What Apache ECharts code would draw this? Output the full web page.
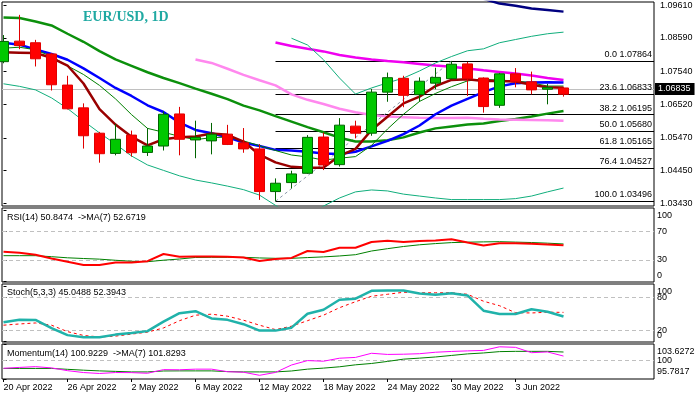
<!DOCTYPE html>
<html><head><meta charset="utf-8">
<script src="https://cdn.jsdelivr.net/npm/echarts@6/dist/echarts.min.js"></script>
<style>html,body{margin:0;padding:0;background:#fff}#c{width:698px;height:398px}</style>
</head><body><div id="c"></div>
<script>
// ---------- data ----------
const dates = ['20 Apr 2022','21 Apr 2022','22 Apr 2022','25 Apr 2022','26 Apr 2022','27 Apr 2022','28 Apr 2022','29 Apr 2022','2 May 2022','3 May 2022','4 May 2022','5 May 2022','6 May 2022','9 May 2022','10 May 2022','11 May 2022','12 May 2022','13 May 2022','16 May 2022','17 May 2022','18 May 2022','19 May 2022','20 May 2022','23 May 2022','24 May 2022','25 May 2022','26 May 2022','27 May 2022','30 May 2022','31 May 2022','1 Jun 2022','2 Jun 2022','3 Jun 2022','6 Jun 2022','7 Jun 2022','8 Jun 2022'];
const labelDates = ['20 Apr 2022','26 Apr 2022','2 May 2022','6 May 2022','12 May 2022','18 May 2022','24 May 2022','30 May 2022','3 Jun 2022'];

const open  = [1.0785,1.0849,1.0844,1.0809,1.0712,1.0641,1.0562,1.0499,1.0556,1.0502,1.0522,1.0622,1.0541,1.0538,1.0559,1.0532,1.0513,1.0380,1.0408,1.0437,1.0550,1.0464,1.0584,1.0562,1.0690,1.0733,1.0682,1.0718,1.0732,1.0778,1.0734,1.0649,1.0747,1.0722,1.0699,1.0703];
const high  = [1.0868,1.0931,1.0853,1.0812,1.0741,1.0655,1.0566,1.0591,1.0570,1.0578,1.0630,1.0644,1.0601,1.0594,1.0588,1.0578,1.0528,1.0421,1.0445,1.0556,1.0564,1.0609,1.0601,1.0700,1.0751,1.0741,1.0736,1.0766,1.07864,1.0784,1.0736,1.0750,1.0765,1.0754,1.0716,1.0706];
const low   = [1.0780,1.0824,1.0770,1.0695,1.0636,1.0514,1.0470,1.0493,1.0489,1.0491,1.0508,1.0493,1.0484,1.0496,1.0525,1.0501,1.0354,1.03496,1.0390,1.0435,1.0447,1.0458,1.0546,1.0554,1.0660,1.0643,1.0660,1.0699,1.0730,1.0678,1.0626,1.0641,1.0705,1.0683,1.0652,1.0676];
const close = [1.0848,1.0835,1.0794,1.0713,1.0638,1.0554,1.0498,1.0543,1.0501,1.0522,1.0621,1.0543,1.0549,1.0559,1.0527,1.0513,1.0380,1.0406,1.0435,1.0549,1.0463,1.0587,1.0562,1.0690,1.0735,1.0680,1.0724,1.0736,1.0777,1.0732,1.0645,1.0747,1.0722,1.0697,1.0705,1.06835];

const maDarkRed = [1.0814,1.0813,1.0812,1.0797,1.0773,1.0717,1.0637,1.0589,1.0551,1.0524,1.0543,1.0549,1.0552,1.0561,1.0557,1.0536,1.0495,1.0471,1.0457,1.0454,1.0455,1.0491,1.0513,1.0572,1.0613,1.0655,1.0676,1.0709,1.0728,1.0730,1.0725,1.0725,1.0723,1.0713,1.0705,1.0704];
const maThinGreen = [1.0827,1.0830,1.0822,1.0801,1.0772,1.0745,1.0711,1.0669,1.0620,1.0577,1.0565,1.0552,1.0542,1.0548,1.0550,1.0538,1.0523,1.0508,1.0494,1.0488,1.0478,1.0484,1.0489,1.0524,1.0575,1.0621,1.0661,1.0686,1.0707,1.0725,1.0731,1.0727,1.0725,1.0719,1.0709,1.0709];
const maBlue = [1.0844,1.0838,1.0823,1.0809,1.0791,1.0764,1.0734,1.0703,1.0678,1.0649,1.0628,1.0595,1.0572,1.0562,1.0549,1.0533,1.0522,1.0510,1.0508,1.0504,1.0499,1.0497,1.0504,1.0521,1.0538,1.0559,1.0586,1.0621,1.0648,1.0669,1.0690,1.0708,1.0718,1.0720,1.0721,1.0720];
const maThickGreen = [1.0923,1.0921,1.0910,1.0898,1.0872,1.0847,1.0818,1.0792,1.0772,1.0752,1.0734,1.0718,1.0701,1.0685,1.0668,1.0648,1.0633,1.0615,1.0598,1.0581,1.0565,1.0548,1.0536,1.0536,1.0540,1.0549,1.0564,1.0577,1.0583,1.0589,1.0592,1.0600,1.0606,1.0614,1.0623,1.0631];
const maPink = [null,null,null,null,null,null,null,null,null,null,null,null,1.0792,1.0781,1.0763,1.0744,1.0727,1.0711,1.0683,1.0666,1.0653,1.0638,1.0627,1.0619,1.0614,1.0612,1.0610,1.0609,1.0609,1.0610,1.0607,1.0605,1.0604,1.0603,1.0602,1.0601];
const maMagenta = [null,null,null,null,null,null,null,null,null,null,null,null,null,null,null,null,null,1.0845,1.0834,1.0825,1.0817,1.0806,1.0798,1.0792,1.0787,1.0783,1.0778,1.0773,1.0769,1.0764,1.0758,1.0753,1.0748,1.0742,1.0734,1.0728];
const maNavy = [null,null,null,null,null,null,null,null,null,null,null,null,null,null,null,null,null,null,null,null,null,null,null,null,null,null,null,null,null,null,1.0981,1.0966,1.0959,1.0951,1.0946,1.0941];
const bandUpper = [null,null,null,null,null,null,null,null,null,null,null,null,null,null,null,null,null,null,1.0858,1.0837,1.0791,1.0734,1.0684,1.0703,1.0719,1.0734,1.0756,1.0781,1.0801,1.0819,1.0825,1.0844,1.0854,1.0864,1.0872,1.0877];
const bandLower = [1.0716,1.0708,1.0697,1.0672,1.0639,1.0600,1.0563,1.0528,1.0491,1.0463,1.0446,1.0429,1.0416,1.0407,1.0397,1.0386,1.0369,1.0337,1.0304,1.0304,1.0335,1.0360,1.0379,1.0385,1.0382,1.0372,1.0366,1.0360,1.0355,1.0355,1.0355,1.0355,1.0358,1.0366,1.0379,1.0391];

const priceTicks = [1.03430,1.04450,1.05470,1.06520,1.07540,1.08590,1.09610];
const bidPrice = 1.06835;
const fibLevels = ['0.0','23.6','38.2','50.0','61.8','76.4','100.0'];
const fibPrices = [1.07864,1.06833,1.06195,1.05680,1.05165,1.04527,1.03496];
const fibLowDate = '13 May 2022';
const fibHighDate = '30 May 2022';

const rsi   = [41.5,40.3,37.4,32.0,27.5,23.0,23.0,26.6,26.4,28.3,38.5,34.7,35.0,35.0,34.7,33.6,28.6,31.4,32.9,42.7,41.3,47.4,47.4,55.5,57.1,55.5,56.9,57.6,59.3,54.7,50.5,53.6,53.6,52.9,51.9,50.85];
const rsiMa = [36.1,36.1,36.1,34.7,33.1,32.1,31.2,29.6,28.2,27.6,29.7,31.4,33.6,33.8,33.8,33.8,32.9,32.4,32.4,33.4,34.4,35.7,37.5,42.7,46.0,49.1,51.5,53.2,54.6,55.2,55.6,55.9,55.3,54.7,53.8,52.67];
const rsiLevels = [30, 70];
const rsiTicks = [0, 30, 70, 100];

const stochK = [34.4,39.2,38.7,24.0,11.4,7.4,7.4,12.3,15.3,18.6,35.6,50.9,54.5,41.4,38.9,31.1,19.5,19.5,24.8,50.0,57.2,75.2,77.0,91.3,91.9,91.9,86.5,84.1,86.8,82.9,55.4,49.5,49.5,58.1,53.6,45.05];
const stochD = [29.3,31.5,33.3,29.3,17.7,10.8,8.1,9.6,13.2,16.8,24.3,37.4,47.3,49.1,45.5,38.3,29.3,21.3,27.5,37.4,47.3,60.8,71.6,81.4,85.0,88.6,87.7,87.7,87.7,85.0,72.5,64.4,51.8,51.3,52.7,52.39];
const stochLevels = [20, 80];
const stochTicks = [0, 20, 80, 100];

const momentum = [98.18,98.38,98.55,98.27,97.65,97.23,97.02,97.23,97.21,97.07,97.88,97.85,97.99,97.99,97.42,97.30,96.61,97.25,98.92,99.91,99.77,100.44,100.62,101.55,101.29,101.34,101.45,101.78,101.96,102.08,102.19,103.00,102.88,101.68,101.85,100.92];
const momentumMa = [98.15,98.15,98.15,98.15,97.95,97.76,97.60,97.49,97.37,97.37,97.58,97.60,97.60,97.60,97.44,97.37,97.37,97.37,97.58,97.99,98.22,98.52,98.96,99.26,99.72,100.23,100.46,100.72,101.06,101.41,101.62,101.92,101.98,101.98,101.98,101.83];
const momLevels = [100];
const momTicks = [95.7817, 100, 103.6272];

// ---------- chart ----------
const FONT = '"Liberation Sans", Arial, sans-serif';
const X_MIN = -0.09375, X_MAX = 40.65625;
const grids = [
  {left: 2, right: 44, top: 2, height: 204},
  {left: 2, right: 44, top: 208, height: 74},
  {left: 2, right: 44, top: 284, height: 58},
  {left: 2, right: 44, top: 344, height: 35}
].map(g => Object.assign(g, {show: true, borderColor: '#000', borderWidth: 1, backgroundColor: 'transparent', containLabel: false}));

const tickIdx = labelDates.map(d => dates.indexOf(d));
const xAxes = grids.map((g, gi) => ({
  type: 'value', gridIndex: gi, min: X_MIN, max: X_MAX, show: gi === 3,
  splitLine: {show: false}, axisLine: {show: false},
  axisTick: {show: true, customValues: tickIdx, length: 3, lineStyle: {color: '#000'}},
  axisLabel: {show: true, customValues: tickIdx, formatter: v => dates[Math.round(v)], align: 'left',
    hideOverlap: false, margin: 4, color: '#000', fontSize: 9, fontFamily: FONT}
}));

// Indicator scale: inner levels on one axis; the panel's top / bottom labels on a
// second axis of the same grid, nudged a few pixels inside the panel (style offsets).
function indAxes(gi, min, max, heightPx, ticks, shiftTopPx, shiftBotPx) {
  const perPx = (max - min) / heightPx;
  const top = ticks[ticks.length - 1], bot = ticks[0];
  const inner = ticks.filter(v => v !== top && v !== bot);
  const edgePos = [bot + shiftBotPx * perPx, top - shiftTopPx * perPx];
  const base = {
    type: 'value', gridIndex: gi, position: 'right', offset: 0, min: min, max: max,
    splitLine: {show: false}, axisLine: {show: false}
  };
  const lbl = {margin: 3, color: '#000', fontSize: 9, fontFamily: FONT, hideOverlap: false};
  return [
    Object.assign({}, base, {
      axisTick: {show: true, customValues: ticks, length: 3, lineStyle: {color: '#000'}},
      axisLabel: Object.assign({customValues: inner, formatter: v => String(v)}, lbl)
    }),
    Object.assign({}, base, {
      axisTick: {show: false},
      axisLabel: Object.assign({customValues: edgePos,
        formatter: v => String(Math.abs(v - edgePos[0]) < Math.abs(v - edgePos[1]) ? bot : top)}, lbl)
    })
  ];
}

const rsiAx = indAxes(1, -1.1, 103.5, 74, rsiTicks, 5, 6);
const stAx = indAxes(2, -1, 103.5, 58, stochTicks, 6, 6);
const moAx = indAxes(3, 95.7817, 103.6272, 35, momTicks, 7.5, 7);
const yAxes = [
  {type: 'value', gridIndex: 0, position: 'right', min: 1.0335, max: 1.0971,
    splitLine: {show: false}, axisLine: {show: false},
    axisTick: {show: true, customValues: priceTicks, length: 3, lineStyle: {color: '#000'}},
    axisLabel: {customValues: priceTicks, formatter: v => v.toFixed(5), margin: 6, hideOverlap: false,
      color: '#000', fontSize: 9, fontFamily: FONT}},
  rsiAx[0], stAx[0], moAx[0], rsiAx[1], stAx[1], moAx[1]
];

const xy = arr => arr.map((v, i) => [i, v]);
function line(data, color, width, gi, z, dash) {
  return {type: 'line', xAxisIndex: gi, yAxisIndex: gi, data: xy(data), showSymbol: false, symbol: 'none',
    z: z || 2, silent: true, connectNulls: false, clip: true,
    lineStyle: {color: color, width: width, type: dash || 'solid'}};
}
function levelLines(values) {
  return {silent: true, symbol: 'none', z: 1, label: {show: false},
    lineStyle: {color: '#C0C0C0', type: [4, 3], width: 1},
    data: values.map(v => ({yAxis: v}))};
}

const fibFrom = dates.indexOf(fibLowDate), fibTo = dates.indexOf(fibHighDate);
const fibLines = fibLevels.map((lvl, k) => {
  const txt = lvl + ' ' + fibPrices[k].toFixed(5);
  return [
    {xAxis: fibFrom, yAxis: fibPrices[k], label: {show: true, formatter: txt}},
    {xAxis: X_MAX, yAxis: fibPrices[k]}
  ];
});

const candleData = dates.map((d, i) => [i, open[i], close[i], low[i], high[i]]);

const series = [
  // bid line (behind everything)
  {type: 'line', xAxisIndex: 0, yAxisIndex: 0, data: [], silent: true,
    markLine: {silent: true, symbol: 'none', z: 1, animation: false,
      lineStyle: {color: '#C0C0C0', type: 'solid', width: 1},
      label: {show: true, position: 'end', distance: 1, formatter: bidPrice.toFixed(5), color: '#fff',
        backgroundColor: '#000', padding: [2, 4, 1, 3], fontSize: 9, fontFamily: FONT},
      data: [{yAxis: bidPrice}]}},
  // fibo lines + trend line
  {type: 'line', xAxisIndex: 0, yAxisIndex: 0, data: [], silent: true,
    markLine: {silent: true, symbol: 'none', z: 1.5, animation: false,
      lineStyle: {color: '#000', type: 'solid', width: 1},
      label: {show: true, position: 'insideEndTop', distance: [2, 2], color: '#000', fontSize: 9, fontFamily: FONT},
      data: fibLines.concat([[
        {xAxis: fibFrom, yAxis: fibPrices[6], lineStyle: {color: '#8a96a8', type: [3, 3], width: 1}, label: {show: false}},
        {xAxis: fibTo, yAxis: fibPrices[0]}
      ]])}},
  line(maThickGreen, '#0c900c', 2.5, 0),
  line(maPink, '#FF88EE', 2.5, 0),
  line(maMagenta, '#F000F0', 2.5, 0),
  line(maNavy, '#000080', 2.5, 0),
  line(bandUpper, '#10AE7C', 1, 0),
  line(bandLower, '#10AE7C', 1, 0),
  line(maBlue, '#0000FF', 2.5, 0),
  line(maThinGreen, '#008000', 1, 0),
  line(maDarkRed, '#990000', 2.5, 0),
  {type: 'candlestick', xAxisIndex: 0, yAxisIndex: 0, data: candleData, encode: {x: 0, y: [1, 2, 3, 4]},
    barWidth: 10, z: 3, silent: true,
    itemStyle: {color: '#00C800', color0: '#FF0000', borderColor: '#006400', borderColor0: '#E00000', borderWidth: 1}},
  // RSI
  line(rsiMa, '#008000', 1, 1),
  Object.assign(line(rsi, '#FF0000', 2, 1, 3), {markLine: levelLines(rsiLevels)}),
  // Stoch
  Object.assign(line(stochD, '#FF0000', 1, 2, 2, [3, 3]), {markLine: levelLines(stochLevels)}),
  line(stochK, '#20B2AA', 2.5, 2, 3),
  // Momentum
  Object.assign(line(momentumMa, '#008000', 1, 3), {markLine: levelLines(momLevels)}),
  line(momentum, '#FF00FF', 1, 3, 3)
];

const txt = (text, x, y, font, fill) => ({type: 'text', x: x, y: y, silent: true, z: 10,
  style: {text: text, font: font, fill: fill, verticalAlign: 'middle', align: 'left'}});

const option = {
  animation: false,
  backgroundColor: '#fff',
  grid: grids, xAxis: xAxes, yAxis: yAxes, series: series,
  graphic: [
    txt('EUR/USD, 1D', 83, 17, 'bold 14px "Liberation Serif", serif', '#1FA9A2'),
    txt('RSI(14) 50.8474  ->MA(7) 52.6719', 7, 218, '9px ' + FONT, '#000'),
    txt('Stoch(5,3,3) 45.0488 52.3943', 7, 293, '9px ' + FONT, '#000'),
    txt('Momentum(14) 100.9229  ->MA(7) 101.8293', 7, 354, '9px ' + FONT, '#000')
  ]
};
const chart = echarts.init(document.getElementById('c'), null, {renderer: 'canvas'});
chart.setOption(option);
</script>
</body></html>
